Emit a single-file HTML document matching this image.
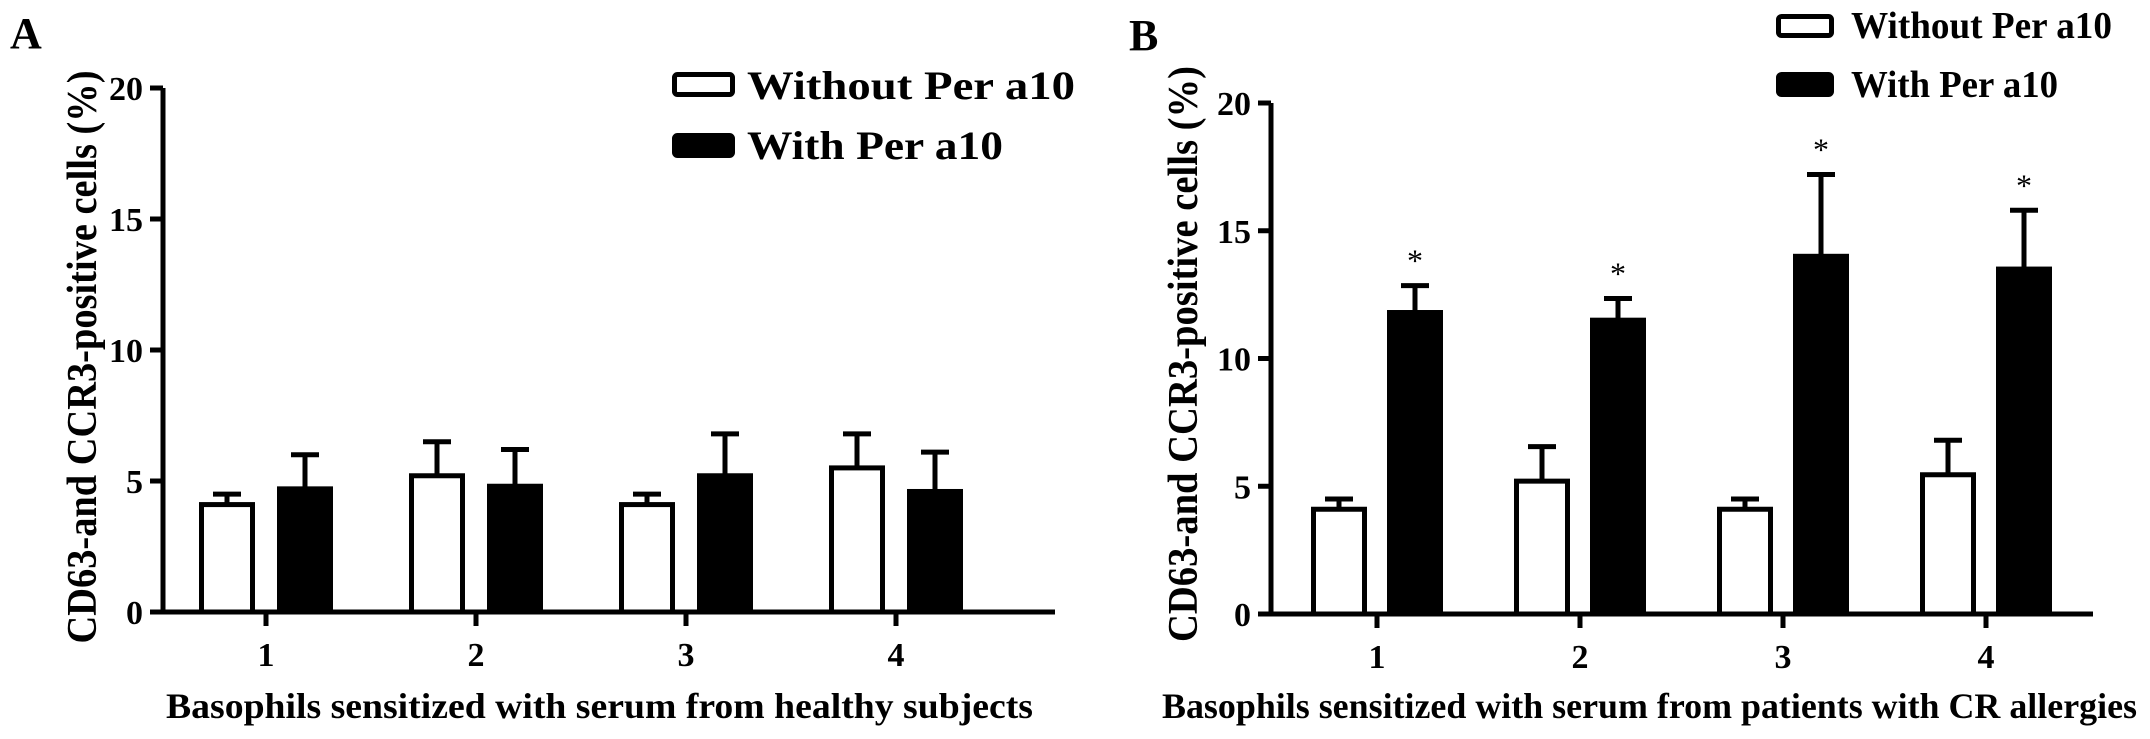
<!DOCTYPE html>
<html><head><meta charset="utf-8"><style>
html,body{margin:0;padding:0;background:#fff;}
svg{display:block;font-family:"Liberation Serif","Times New Roman",serif;font-weight:bold;}
</style></head><body>
<svg id="chart" width="2150" height="739" viewBox="0 0 2150 739" xmlns="http://www.w3.org/2000/svg">
<g id="pA"></g>
<g id="pB"></g>
</svg>
<script>
const categories = ["1","2","3","4"];
const yTicks = [0,5,10,15,20];
const aWithout = [4.1, 5.2, 4.1, 5.5];
const aWithoutErr = [0.4, 1.3, 0.4, 1.3];
const aWith = [4.7, 4.8, 5.2, 4.6];
const aWithErr = [1.3, 1.4, 1.6, 1.5];
const bWithout = [4.1, 5.2, 4.1, 5.45];
const bWithoutErr = [0.4, 1.35, 0.4, 1.35];
const bWith = [11.8, 11.5, 14.0, 13.5];
const bWithErr = [1.05, 0.85, 3.2, 2.3];
const bStars = [true, true, true, true];

const NS = "http://www.w3.org/2000/svg";
function mk(parent, tag, attrs, text){
  const e = document.createElementNS(NS, tag);
  for (const k in attrs) e.setAttribute(k, attrs[k]);
  if (text !== undefined) e.textContent = text;
  parent.appendChild(e);
  return e;
}

function panel(g, cfg){
  const yScale = v => cfg.zeroY - (cfg.zeroY - cfg.topY) * v / 20;
  const xScale = i => cfg.firstTick + i * cfg.tickGap;
  const L = mk(g, "text", {x: cfg.letterX, y: cfg.letterY, "font-size": 44}, cfg.letter);
  
  
  for (let i = 0; i < categories.length; i++) {
    const cx = xScale(i);
    const series = [
      {v: cfg.w0[i], e: cfg.e0[i], off: -cfg.off, fill: "#fff", name: "bar-without-" + categories[i]},
      {v: cfg.w1[i], e: cfg.e1[i], off: cfg.off, fill: "#000", name: "bar-with-" + categories[i]}
    ];
    series.forEach(s => {
      const x = cx + s.off;
      const top = yScale(s.v), errTop = yScale(s.v + s.e);
      const eb = mk(g, "path", {d: `M${x} ${top} V${errTop} M${x-14} ${errTop} H${x+14}`, stroke: "#000", "stroke-width": 5, fill: "none"});
      
      
      const r = mk(g, "rect", {x: x - cfg.bw/2 + 2.5, y: top, width: cfg.bw - 5, height: cfg.zeroY - top, fill: s.fill, stroke: "#000", "stroke-width": 5});
      
      
      if (s.fill === "#000" && cfg.stars && cfg.stars[i]) {
        const st = mk(g, "text", {x: x, y: errTop - 14, "font-size": 32, "font-weight": "normal", "text-anchor": "middle"}, "*");
        
        
      }
    });
    const tk = mk(g, "line", {x1: cx, x2: cx, y1: cfg.zeroY, y2: cfg.zeroY + 14, stroke: "#000", "stroke-width": 5});
    
    
    const tl = mk(g, "text", {x: cx, y: cfg.zeroY + 54, "font-size": 34, "text-anchor": "middle"}, categories[i]);
    
    
  }
  const ax = mk(g, "path", {d: `M${cfg.axisX} ${cfg.topY} V${cfg.zeroY} H${cfg.axisEnd}`, stroke: "#000", "stroke-width": 5, fill: "none"});
  
  
  yTicks.forEach(t => {
    const y = yScale(t);
    const l = mk(g, "line", {x1: cfg.axisX - 13, x2: cfg.axisX, y1: y, y2: y, stroke: "#000", "stroke-width": 5});
    
    
    const tl = mk(g, "text", {x: cfg.axisX - 20, y: y + 12, "font-size": 34, "text-anchor": "end"}, String(t));
    
    
  });
  const yt = mk(g, "text", {x: 0, y: 0, "font-size": 42, "text-anchor": "middle", textLength: cfg.ytLen, lengthAdjust: "spacingAndGlyphs", transform: `translate(${cfg.ytX},${cfg.ytY}) rotate(-90)`}, "CD63-and CCR3-positive cells  (%)");
  
  
  const xt = mk(g, "text", {x: cfg.xtX, y: 718, "font-size": 36, textLength: cfg.xtLen, lengthAdjust: "spacingAndGlyphs"}, cfg.xTitle);
  
  
  cfg.legend.forEach((lg, k) => {
    const b = mk(g, "rect", {x: lg.bx + 2.5, y: lg.by + 2.5, width: lg.bw - 5, height: lg.bh - 5, rx: 3, fill: k === 0 ? "#fff" : "#000", stroke: "#000", "stroke-width": 5});
    
    
    const t = mk(g, "text", {x: lg.tx, y: lg.ty, "font-size": lg.fs, textLength: lg.tl, lengthAdjust: "spacingAndGlyphs"}, lg.text);
    
    
  });
}

panel(document.getElementById("pA"), {
  letter: "A", letterX: 10, letterY: 48,
  topY: 88, zeroY: 612, axisX: 163, axisEnd: 1055,
  firstTick: 266, tickGap: 210, off: 39, bw: 56,
  w0: aWithout, e0: aWithoutErr, w1: aWith, e1: aWithErr,
  ytX: 96, ytY: 357, ytLen: 573,
  xtX: 166, xtLen: 867, xTitle: "Basophils sensitized with serum from healthy subjects",
  legend: [
    {bx: 672, by: 72, bw: 63, bh: 25, tx: 747, ty: 99, fs: 40, tl: 328, text: "Without Per a10"},
    {bx: 672, by: 133, bw: 63, bh: 25, tx: 747, ty: 159, fs: 40, tl: 256, text: "With Per a10"}
  ]
});
panel(document.getElementById("pB"), {
  letter: "B", letterX: 1129, letterY: 50,
  topY: 103, zeroY: 614, axisX: 1271, axisEnd: 2093,
  firstTick: 1377, tickGap: 203, off: 38, bw: 56,
  w0: bWithout, e0: bWithoutErr, w1: bWith, e1: bWithErr, stars: bStars,
  ytX: 1197, ytY: 354, ytLen: 576,
  xtX: 1162, xtLen: 975, xTitle: "Basophils sensitized with serum from patients with CR allergies",
  legend: [
    {bx: 1776, by: 14, bw: 58, bh: 24, tx: 1851, ty: 38, fs: 38, tl: 261, text: "Without Per a10"},
    {bx: 1776, by: 72, bw: 58, bh: 25, tx: 1851, ty: 97, fs: 38, tl: 207, text: "With Per a10"}
  ]
});
</script>
</body></html>
